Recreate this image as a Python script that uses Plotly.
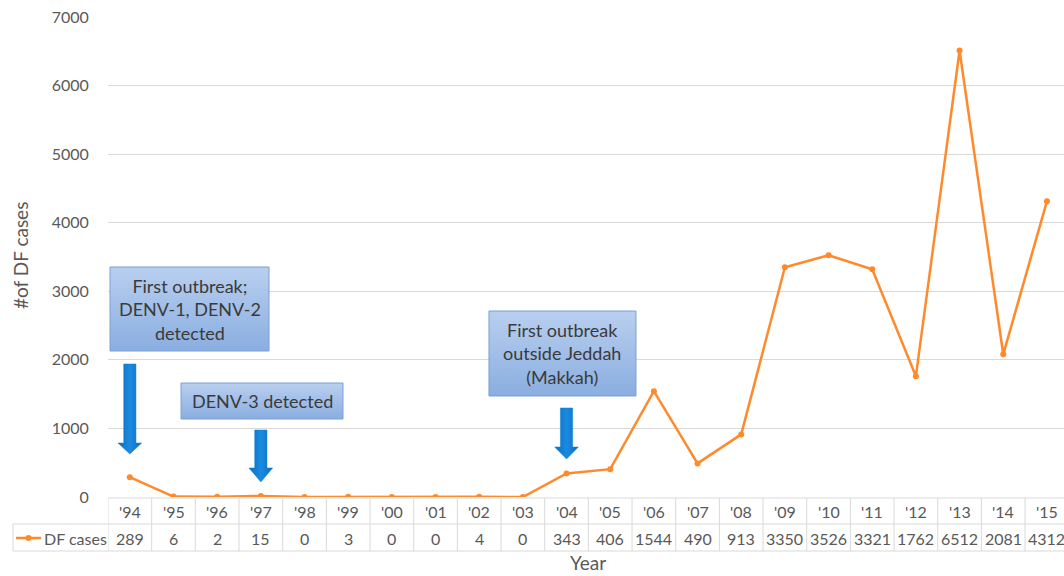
import plotly.graph_objects as go

# ---------------- data ----------------
years = ["'94", "'95", "'96", "'97", "'98", "'99", "'00", "'01", "'02", "'03", "'04",
         "'05", "'06", "'07", "'08", "'09", "'10", "'11", "'12", "'13", "'14", "'15"]
cases = [289, 6, 2, 15, 0, 3, 0, 0, 4, 0, 343, 406, 1544, 490, 913, 3350, 3526, 3321,
         1762, 6512, 2081, 4312]
series_name = "DF cases"
y_ticks = [0, 1000, 2000, 3000, 4000, 5000, 6000, 7000]

# event callouts: (text, category index of arrow)
events = [
    ("First outbreak;<br>DENV-1, DENV-2<br>detected", 0),
    ("DENV-3 detected", 3),
    ("First outbreak<br>outside Jeddah<br>(Makkah)", 10),
]

# ---------------- layout constants ----------------
W, H = 1064, 576
ML, MR, MT, MB = 108, 0, 17, 79
plot_w = W - ML - MR
plot_h = H - MT - MB
col_w = 43.67
x_hi = -0.5 + plot_w / col_w

ORANGE = "#ff8a2b"
GRAY_TXT = "#595959"
GRID = "#d9d9d9"
FONT = "Lato"


def py_to_paper(py):
    return (H - MB - py) / plot_h


def px_to_paper(px):
    return (px - ML) / plot_w


# callout geometry in data units (box x0, x1, y_bottom, y_top; arrow top, head start, tip)
box_geo = [(-0.454, 3.187, 2129, 3354), (1.172, 4.881, 1137, 1662), (8.224, 11.59, 1473, 2712)]
arrow_geo = [(1940, 787, 627), (977, 423, 219), (1298, 729, 554)]
shaft_hw, head_hw = 0.14, 0.27

fig = go.Figure()

# gradient boxes
for (x0, x1, yb, yt) in box_geo:
    fig.add_trace(go.Scatter(
        x=[x0, x1, x1, x0, x0], y=[yb, yb, yt, yt, yb], mode="lines", fill="toself",
        line=dict(color="#7a9fd6", width=1),
        fillgradient=dict(type="vertical", colorscale=[[0, "#8aaee0"], [1, "#b9cfef"]]),
        hoverinfo="skip", showlegend=False))

# block arrows
for (_, xi), (top, hs, tip) in zip(events, arrow_geo):
    xs = [xi - shaft_hw, xi + shaft_hw, xi + shaft_hw, xi + head_hw, xi, xi - head_hw,
          xi - shaft_hw, xi - shaft_hw]
    ys = [top, top, hs, hs, tip, hs, hs, top]
    fig.add_trace(go.Scatter(
        x=xs, y=ys, mode="lines", fill="toself", line=dict(color="#0f7ccd", width=0.5),
        fillgradient=dict(type="horizontal", colorscale=[[0, "#0a6fc2"], [0.5, "#1a8ae0"], [1, "#0a6fc2"]]),
        hoverinfo="skip", showlegend=False))

# main series
fig.add_trace(go.Scatter(
    x=list(range(len(years))), y=cases, mode="lines+markers", name=series_name,
    line=dict(color=ORANGE, width=2.5), marker=dict(color=ORANGE, size=6),
    showlegend=False))

annotations = []
shapes = []

# callout text
for (text, _), (x0, x1, yb, yt) in zip(events, box_geo):
    annotations.append(dict(x=(x0 + x1) / 2, y=(yb + yt) / 2, xref="x", yref="y",
                            text=text, showarrow=False, xanchor="center", yanchor="middle",
                            font=dict(family=FONT, size=18, color="#3a3a3a")))

# data table
y_top, y_mid, y_bot = py_to_paper(498), py_to_paper(524), py_to_paper(551)
y_r1, y_r2 = py_to_paper(511.5), py_to_paper(538)
shapes.append(dict(type="line", xref="paper", yref="paper", x0=0, x1=1, y0=y_top, y1=y_top,
                   line=dict(color=GRID, width=1)))
shapes.append(dict(type="line", xref="paper", yref="paper", x0=px_to_paper(13), x1=1,
                   y0=y_mid, y1=y_mid, line=dict(color=GRID, width=1)))
shapes.append(dict(type="line", xref="paper", yref="paper", x0=px_to_paper(13), x1=1,
                   y0=y_bot, y1=y_bot, line=dict(color=GRID, width=1)))
shapes.append(dict(type="line", xref="paper", yref="paper", x0=px_to_paper(13),
                   x1=px_to_paper(13), y0=y_mid, y1=y_bot, line=dict(color=GRID, width=1)))
for i in range(len(years) + 1):
    shapes.append(dict(type="line", xref="x", yref="paper", x0=i - 0.5, x1=i - 0.5,
                       y0=y_top, y1=y_bot, line=dict(color=GRID, width=1)))
for i, (yr, v) in enumerate(zip(years, cases)):
    annotations.append(dict(x=i, y=y_r1, xref="x", yref="paper", text=yr, showarrow=False,
                            xanchor="center", yanchor="middle",
                            font=dict(family=FONT, size=16, color=GRAY_TXT)))
    annotations.append(dict(x=i, y=y_r2, xref="x", yref="paper", text=str(v), showarrow=False,
                            xanchor="center", yanchor="middle",
                            font=dict(family=FONT, size=16, color=GRAY_TXT)))

# legend key in table
shapes.append(dict(type="line", xref="paper", yref="paper", x0=px_to_paper(16),
                   x1=px_to_paper(41), y0=y_r2, y1=y_r2, line=dict(color=ORANGE, width=2.5)))
shapes.append(dict(type="circle", xref="paper", yref="paper", x0=px_to_paper(25.5),
                   x1=px_to_paper(31.5), y0=py_to_paper(541), y1=py_to_paper(535),
                   fillcolor=ORANGE, line=dict(width=0)))
annotations.append(dict(x=px_to_paper(42), y=y_r2, xref="paper", yref="paper",
                        text=series_name, showarrow=False, xanchor="left", yanchor="middle",
                        font=dict(family=FONT, size=16, color=GRAY_TXT)))

# axis titles
annotations.append(dict(x=px_to_paper(20), y=py_to_paper(256), xref="paper", yref="paper",
                        text="#of DF cases", textangle=-90, showarrow=False,
                        xanchor="center", yanchor="middle",
                        font=dict(family=FONT, size=19, color=GRAY_TXT)))
annotations.append(dict(x=px_to_paper(588), y=py_to_paper(562.5), xref="paper", yref="paper",
                        text="Year", showarrow=False, xanchor="center", yanchor="middle",
                        font=dict(family=FONT, size=19, color=GRAY_TXT)))

fig.update_layout(
    width=W, height=H, margin=dict(l=ML, r=MR, t=MT, b=MB),
    paper_bgcolor="white", plot_bgcolor="white",
    xaxis=dict(range=[-0.5, x_hi], showgrid=False, zeroline=False, showticklabels=False,
               showline=False, fixedrange=True),
    yaxis=dict(range=[0, 7000], tickvals=y_ticks, showgrid=True, gridcolor=GRID, gridwidth=1,
               zeroline=False, showline=False, ticks="outside", ticklen=15,
               tickcolor="rgba(0,0,0,0)",
               tickfont=dict(family=FONT, size=16, color=GRAY_TXT), fixedrange=True),
    shapes=shapes, annotations=annotations, showlegend=False,
)

fig.write_html("out.html")
